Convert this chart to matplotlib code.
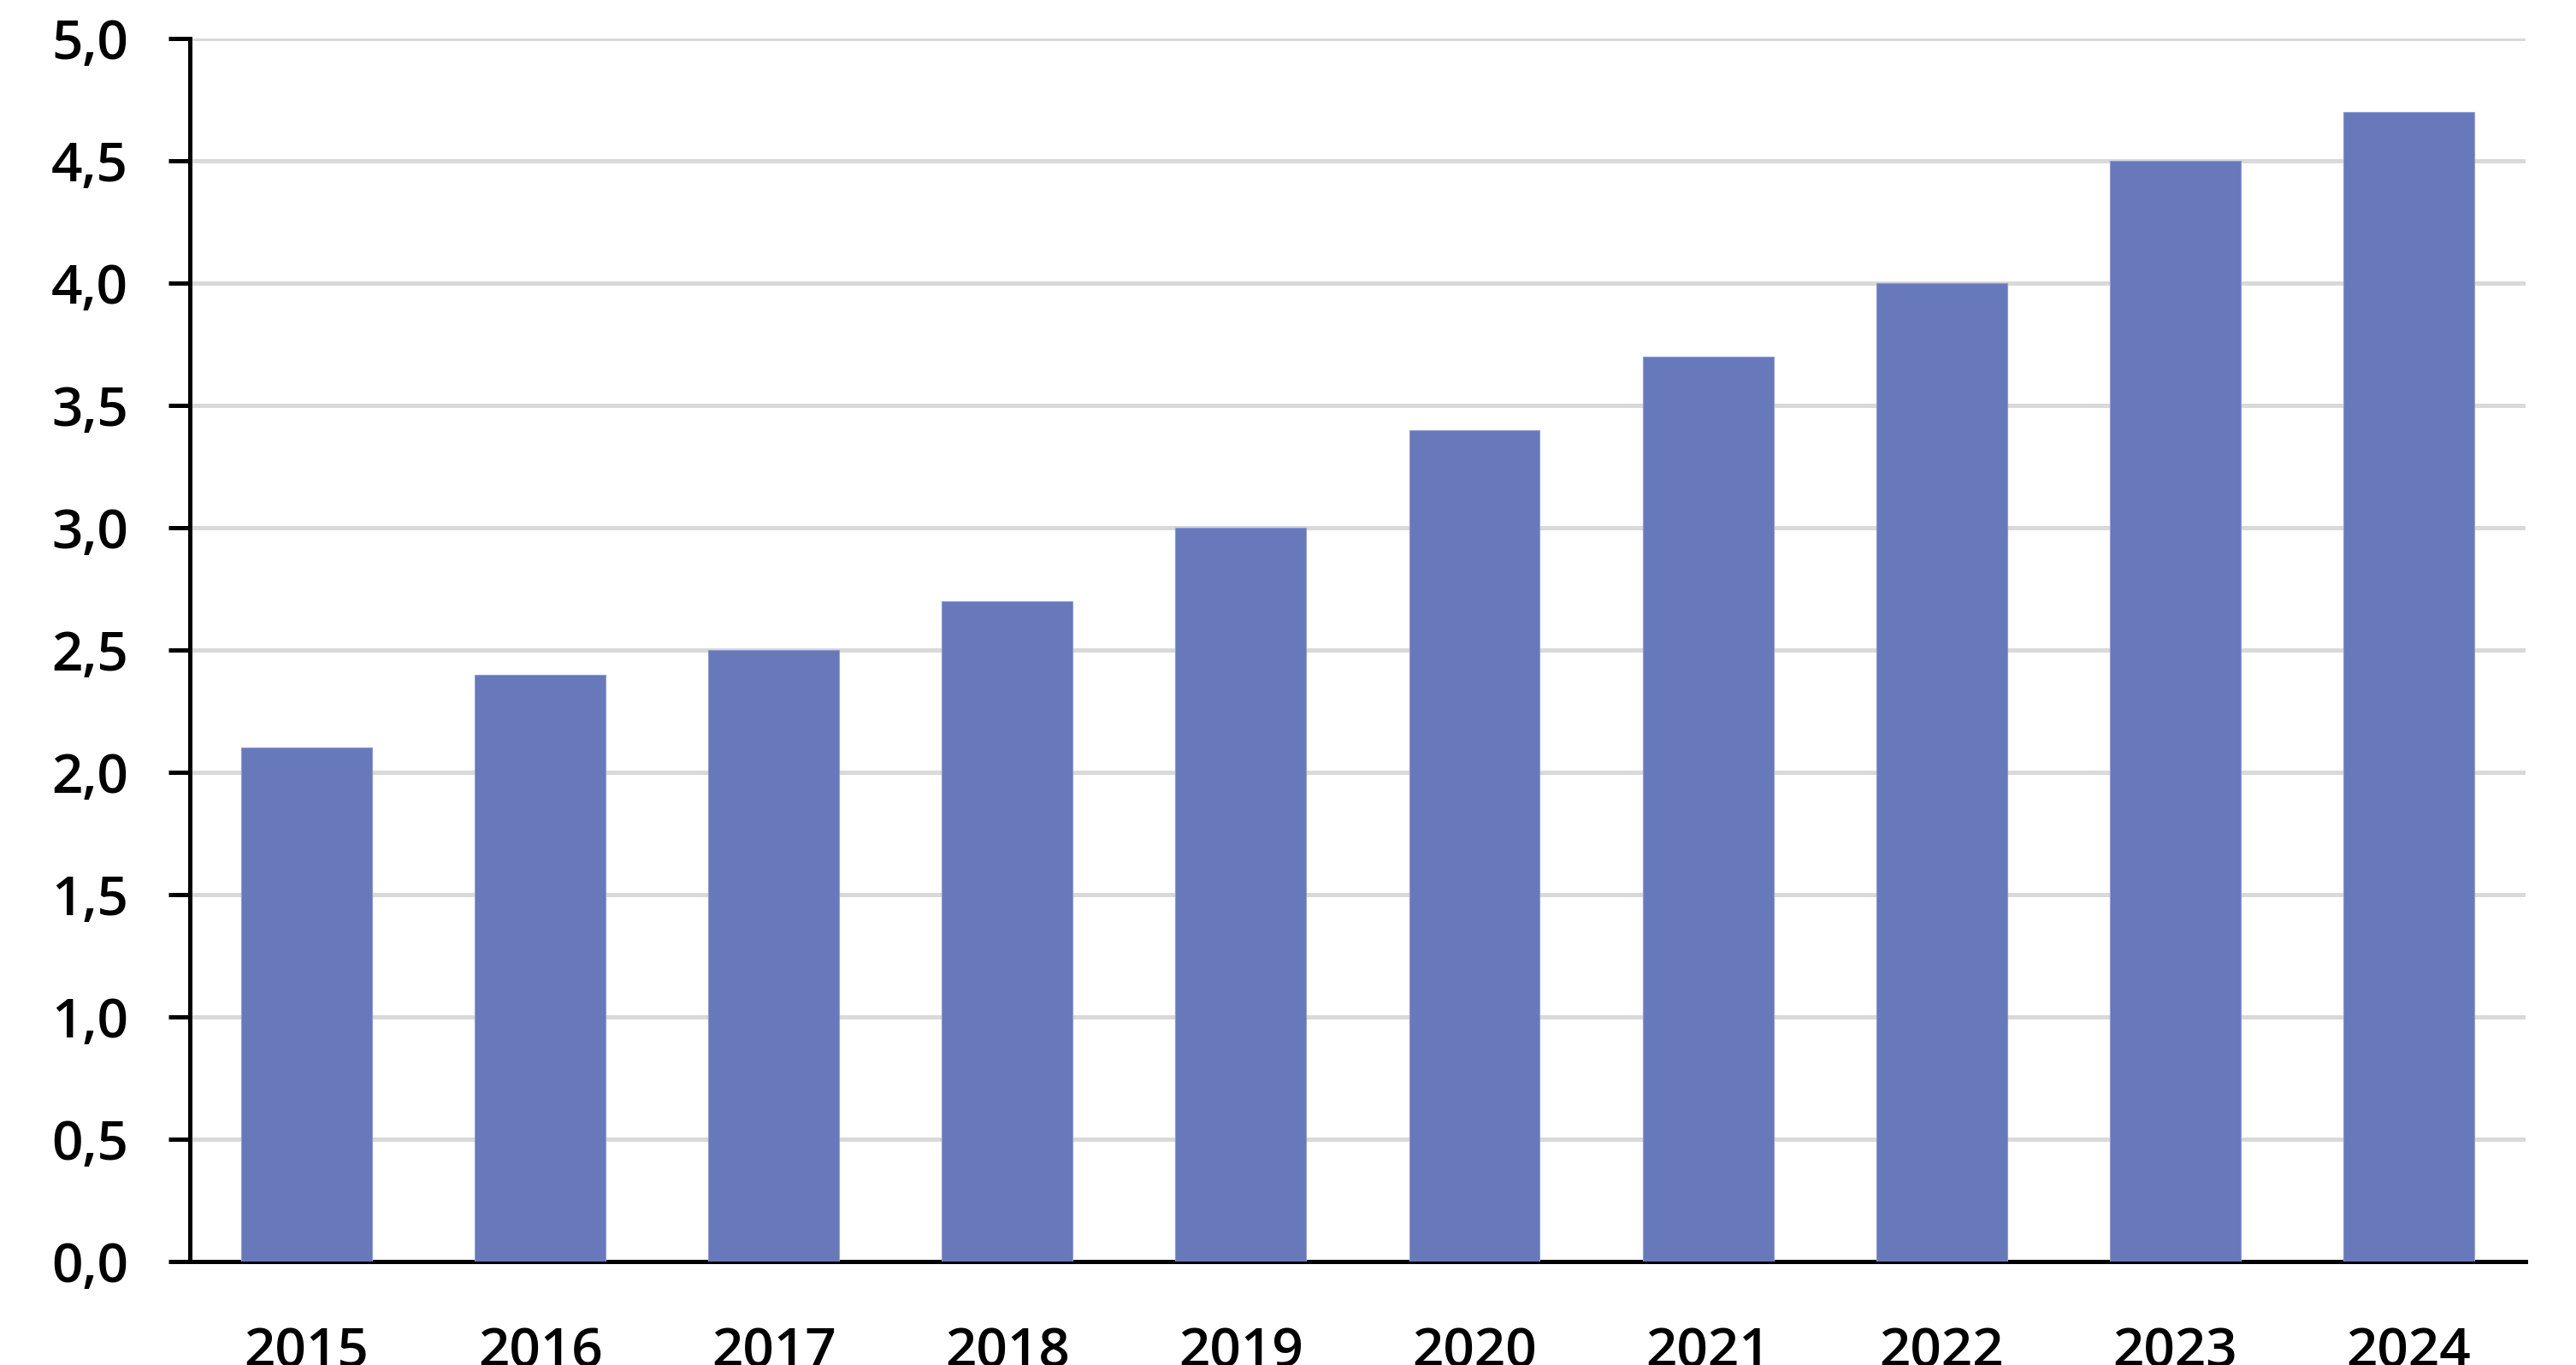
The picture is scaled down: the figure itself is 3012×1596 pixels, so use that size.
import matplotlib
matplotlib.use('Agg')
import matplotlib.pyplot as plt
from matplotlib.ticker import FuncFormatter

years = ['2015', '2016', '2017', '2018', '2019', '2020', '2021', '2022', '2023', '2024']
values = [2.1, 2.4, 2.5, 2.7, 3.0, 3.4, 3.7, 4.0, 4.5, 4.7]
y_ticks = [0.0, 0.5, 1.0, 1.5, 2.0, 2.5, 3.0, 3.5, 4.0, 4.5, 5.0]

plt.rcParams['font.family'] = ['Open Sans', 'DejaVu Sans']

fig = plt.figure(figsize=(15.06, 7.98), dpi=200)
ax = fig.add_axes([0.0737, 0.0758, 0.9067, 0.896])

x = range(len(years))
ax.bar(x, values, width=0.56, color='#6779BA', edgecolor='#8E9BD2', linewidth=0.4, zorder=3)

ax.set_xlim(-0.5, len(years) - 0.5)
ax.set_ylim(0, 5.0)
ax.set_yticks(y_ticks)
ax.yaxis.set_major_formatter(FuncFormatter(lambda v, p: '{:.1f}'.format(v).replace('.', ',')))
ax.set_xticks(list(x))
ax.set_xticklabels(years)

ax.grid(axis='y', color='#D9D9D9', linewidth=1.8, zorder=0)
ax.set_axisbelow(True)

for s in ['top', 'right']:
    ax.spines[s].set_visible(False)
for s in ['left', 'bottom']:
    ax.spines[s].set_linewidth(1.8)
    ax.spines[s].set_color('black')

ax.tick_params(axis='y', direction='out', length=9, width=1.8, pad=17, labelsize=23, colors='black')
ax.tick_params(axis='x', length=0, pad=27, labelsize=23, colors='black')
for lab in ax.get_xticklabels() + ax.get_yticklabels():
    lab.set_fontweight('semibold')

fig.savefig('out.png', dpi=200)
